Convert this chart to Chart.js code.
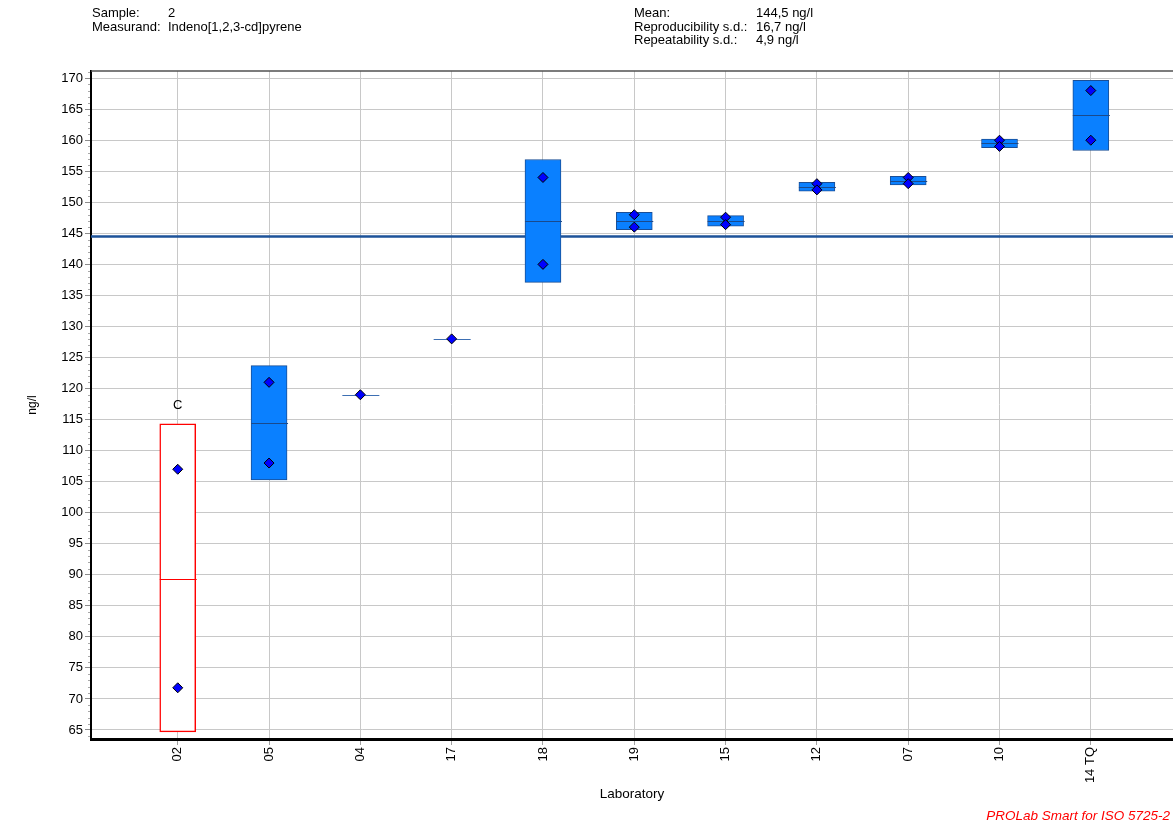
<!DOCTYPE html>
<html>
<head>
<meta charset="utf-8">
<title>Indeno[1,2,3-cd]pyrene – Sample 2</title>
<script src="https://cdn.jsdelivr.net/npm/chart.js@4/dist/chart.umd.min.js"></script>
<style>
  html, body { margin: 0; padding: 0; background: #fff; }
  #wrap { position: relative; width: 1173px; height: 827px; font-family: "Liberation Sans", Arial, sans-serif; }
  #c { position: absolute; left: 0; top: 0; }
  .hdr { position: absolute; font-size: 13px; line-height: 13.5px; color: #000; white-space: pre; }
  .footer { position: absolute; right: 3px; top: 808px; font-size: 13.5px; font-style: italic; color: #ff0000; white-space: pre; }
</style>
</head>
<body>
<div id="wrap">
  <canvas id="c" width="1173" height="827"></canvas>
  <div class="hdr" style="left:92px;top:6px">Sample:<br>Measurand:</div>
  <div class="hdr" style="left:168px;top:6px">2<br>Indeno[1,2,3-cd]pyrene</div>
  <div class="hdr" style="left:634px;top:6px">Mean:<br>Reproducibility s.d.:<br>Repeatability s.d.:</div>
  <div class="hdr" style="left:756px;top:6px">144,5 ng/l<br>16,7 ng/l<br>4,9 ng/l</div>
  <div class="footer">PROLab Smart for ISO 5725-2</div>
</div>
<script>
// Laboratories in plotting order and their two replicate results (ng/l)
const labs    = ['02', '05', '04', '17', '18', '19', '15', '12', '07', '10', '14 TQ'];
const rep1    = [107, 121, 119, 128, 154, 148, 147.6, 153, 154, 160, 168];
const rep2    = [71.8, 108, null, null, 140, 146, 146.4, 152, 153, 159, 160];
// Box limits and laboratory means
const boxLow  = [64.7, 105.3, 119, 128, 137.1, 145.6, 146.15, 151.8, 152.8, 158.8, 158.35];
const boxHigh = [114.3, 123.7, 119, 128, 156.9, 148.4, 147.85, 153.2, 154.2, 160.2, 169.65];
const labMean = [89.4, 114.5, 119, 128, 147, 147, 147, 152.5, 153.5, 159.5, 164];
// Outlier flags (C = Cochran)
const flags   = ['C', '', '', '', '', '', '', '', '', '', ''];
// Overall mean (ng/l)
const overallMean = 144.5;
// Value axis tick labels
const yTicks = [65, 70, 75, 80, 85, 90, 95, 100, 105, 110, 115, 120, 125, 130, 135, 140, 145, 150, 155, 160, 165, 170];

const FONT = '"Liberation Sans", Arial, sans-serif';

const points = [];
labs.forEach((_, i) => {
  if (rep1[i] != null) points.push({ x: i, y: rep1[i] });
  if (rep2[i] != null) points.push({ x: i, y: rep2[i] });
});

const boxPlot = {
  id: 'boxPlot',
  beforeDatasetsDraw(chart) {
    const { ctx, chartArea: a, scales: { y } } = chart;
    ctx.save();
    // minor ticks on the value axis
    ctx.strokeStyle = '#a8a8a8';
    ctx.lineWidth = 1;
    for (let v = Math.ceil(y.min); v <= y.max; v++) {
      if (v % 5 === 0) continue;
      const py = Math.round(y.getPixelForValue(v)) + 0.5;
      ctx.beginPath();
      ctx.moveTo(a.left - 3, py);
      ctx.lineTo(a.left - 1, py);
      ctx.stroke();
    }
    // overall mean line
    const my = y.getPixelForValue(overallMean);
    ctx.strokeStyle = '#1c5299';
    ctx.lineWidth = 2.5;
    ctx.beginPath();
    ctx.moveTo(a.left, my);
    ctx.lineTo(a.right, my);
    ctx.stroke();
    // frame top
    ctx.strokeStyle = '#505050';
    ctx.lineWidth = 1.5;
    ctx.beginPath();
    ctx.moveTo(a.left, a.top);
    ctx.lineTo(a.right, a.top);
    ctx.stroke();
    ctx.restore();
  },
  afterDatasetDraw(chart, args) {
    if (args.index !== 0) return;
    const { ctx, scales: { x, y } } = chart;
    const meta = chart.getDatasetMeta(0);
    ctx.save();
    labs.forEach((_, i) => {
      const half = meta.data[i].width / 2;
      const cx = x.getPixelForValue(i);
      const py = Math.round(y.getPixelForValue(labMean[i])) + 0.5;
      ctx.strokeStyle = flags[i] ? '#ff0000' : (boxHigh[i] === boxLow[i] ? '#3d6fb3' : '#1a4a8c');
      ctx.lineWidth = 1;
      ctx.beginPath();
      ctx.moveTo(cx - half, py);
      ctx.lineTo(cx + half + 1, py);
      ctx.stroke();
    });
    ctx.restore();
  },
  afterDatasetsDraw(chart) {
    const { ctx, scales: { x, y } } = chart;
    ctx.save();
    ctx.fillStyle = '#000';
    ctx.font = '13px ' + FONT;
    ctx.textAlign = 'center';
    ctx.textBaseline = 'middle';
    labs.forEach((_, i) => {
      if (!flags[i]) return;
      ctx.fillText(flags[i], x.getPixelForValue(i), y.getPixelForValue(boxHigh[i]) - 19);
    });
    ctx.restore();
  }
};

new Chart(document.getElementById('c'), {
  type: 'bar',
  data: {
    datasets: [
      {
        type: 'bar',
        data: labs.map((_, i) => ({ x: i, y: [boxLow[i], boxHigh[i]] })),
        backgroundColor: c => flags[c.dataIndex] ? '#ffffff' : '#0a80ff',
        borderColor: c => flags[c.dataIndex] ? '#ff0000' : '#1a4e96',
        borderWidth: c => flags[c.dataIndex] ? 1.5 : 1,
        borderSkipped: false,
        barThickness: 36,
        order: 2
      },
      {
        type: 'scatter',
        data: points,
        pointStyle: 'rectRot',
        pointRadius: 5,
        backgroundColor: '#0000ff',
        borderColor: '#000000',
        borderWidth: 1,
        showLine: false,
        order: 1
      }
    ]
  },
  options: {
    responsive: false,
    animation: false,
    devicePixelRatio: 1,
    events: [],
    layout: { autoPadding: false, padding: { top: 71, left: 0, right: 0, bottom: 0 } },
    plugins: { legend: { display: false }, tooltip: { enabled: false } },
    scales: {
      x: {
        type: 'linear',
        offset: false,
        min: -0.95,
        max: 10.9,
        afterBuildTicks: s => { s.ticks = labs.map((_, i) => ({ value: i })); },
        afterFit: s => { s.height = 88; s.paddingLeft = 0; s.paddingRight = 0; },
        ticks: {
          autoSkip: false,
          minRotation: 90,
          maxRotation: 90,
          padding: 2,
          color: '#000',
          font: { family: FONT, size: 13 },
          callback: v => labs[v]
        },
        grid: { offset: false, color: '#c8c8c8', tickColor: '#a0a0a0', tickLength: 6, lineWidth: 1 },
        border: { color: '#000', width: 3 },
        title: { display: true, text: 'Laboratory', color: '#000', font: { family: FONT, size: 13.5 }, padding: 25 }
      },
      y: {
        type: 'linear',
        min: 63.55,
        max: 171.15,
        afterBuildTicks: s => { s.ticks = yTicks.map(v => ({ value: v })); },
        afterFit: s => { s.width = 91; },
        ticks: { color: '#000', padding: 2, font: { family: FONT, size: 13 } },
        grid: { color: '#c8c8c8', tickColor: '#8c8c8c', tickLength: 6, lineWidth: 1 },
        border: { color: '#000', width: 2 },
        title: { display: true, text: 'ng/l', color: '#000', font: { family: FONT, size: 12 }, padding: 25 }
      }
    }
  },
  plugins: [boxPlot]
});
</script>
</body>
</html>
